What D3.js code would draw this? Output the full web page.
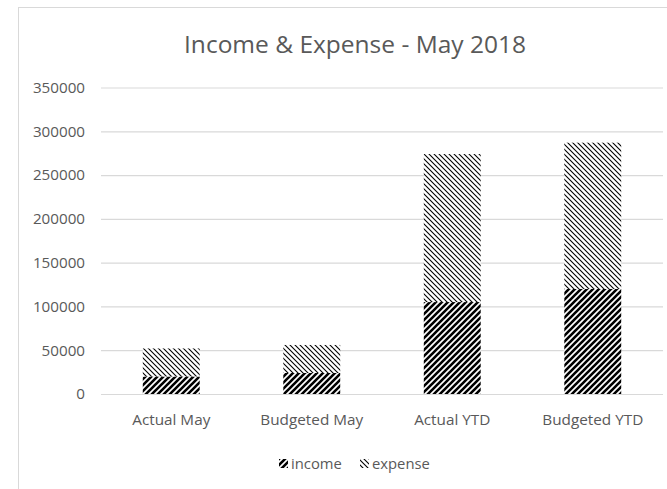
<!DOCTYPE html>
<html><head><meta charset="utf-8">
<script src="https://cdn.jsdelivr.net/npm/d3@7"></script>
<style>body{margin:0;background:#fff}svg{display:block}text{font-family:"Open Sans",sans-serif;fill:#595959}</style>
</head><body>
<script>
const categories = ["Actual May","Budgeted May","Actual YTD","Budgeted YTD"];
const income = [20000, 24000, 105000, 120000];
const expense = [32000, 32000, 169000, 167000];
const seriesNames = ["income","expense"];
const yTicks = [0,50000,100000,150000,200000,250000,300000,350000];
const title = "Income & Expense - May 2018";

const W=667,H=489;
const FONT='"Open Sans",sans-serif';
const svg=d3.select("body").append("svg").attr("width",W).attr("height",H);
const defs=svg.append("defs");
const pi=defs.append("pattern").attr("id","pInc").attr("patternUnits","userSpaceOnUse").attr("width",6).attr("height",6);
pi.append("rect").attr("width",6).attr("height",6).attr("fill","#fff");
pi.append("path").attr("d","M-1.5,1.5 L1.5,-1.5 M0,6 L6,0 M4.5,7.5 L7.5,4.5").attr("stroke","#000").attr("stroke-width",2.6);
const pe=defs.append("pattern").attr("id","pExp").attr("patternUnits","userSpaceOnUse").attr("width",5).attr("height",5);
pe.append("rect").attr("width",5).attr("height",5).attr("fill","#fff");
pe.append("path").attr("d","M-1.25,3.75 L1.25,6.25 M0,0 L5,5 M3.75,-1.25 L6.25,1.25").attr("stroke","#000").attr("stroke-width",1.1);

svg.append("rect").attr("x",18.5).attr("y",7.5).attr("width",W).attr("height",H).attr("fill","#fff").attr("stroke","#d9d9d9");

const x=d3.scaleBand().domain(categories).range([101,663]).paddingInner(0.595).paddingOuter(0.2975);
const y=d3.scaleLinear().domain([0,350000]).range([394,87.5]);

const ga=svg.append("g").attr("transform","translate(101,0)")
  .call(d3.axisLeft(y).tickValues(yTicks).tickSize(-562).tickPadding(16).tickFormat(d3.format("d")));
ga.select(".domain").remove();
ga.selectAll("line").attr("stroke","#d9d9d9").attr("stroke-width",1.2);
ga.selectAll("text").attr("font-size",15.2).attr("fill","#595959").style("font-family",FONT);

const stackData=categories.map((c,i)=>({cat:c,income:income[i],expense:expense[i]}));
const stack=d3.stack().keys(seriesNames)(stackData);
const fills={income:"url(#pInc)",expense:"url(#pExp)"};
stack.forEach(s=>{
  svg.append("g").selectAll("rect").data(s).join("rect")
    .attr("x",d=>x(d.data.cat)).attr("width",x.bandwidth())
    .attr("y",d=>y(d[1])).attr("height",d=>y(d[0])-y(d[1]))
    .attr("fill",fills[s.key]);
});

const gx=svg.append("g").attr("transform","translate(0,394)").call(d3.axisBottom(x).tickSize(0).tickPadding(20));
gx.select(".domain").remove();
gx.selectAll("text").attr("font-size",15.3).attr("fill","#595959").style("font-family",FONT);

svg.append("text").attr("x",355).attr("y",53).attr("text-anchor","middle").attr("font-size",24.5).text(title);

const leg=svg.append("g");
const legX=[279,360];
seriesNames.forEach((n,i)=>{
  leg.append("rect").attr("x",legX[i]).attr("y",459).attr("width",9).attr("height",9).attr("fill",fills[n]);
  leg.append("text").attr("x",legX[i]+12).attr("y",469).attr("font-size",14.8).text(n);
});
</script>
</body></html>
